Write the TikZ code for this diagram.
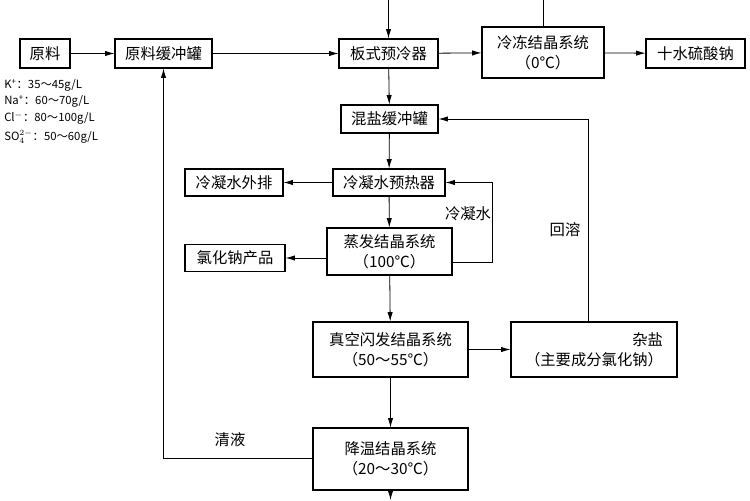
\documentclass[tikz,border=0pt]{standalone}
\usepackage{fontspec}
\setmainfont{Liberation Serif}
\newfontfamily\cjk{Noto Sans CJK SC}
\usetikzlibrary{arrows.meta}

\begin{document}
\begin{tikzpicture}[x=0.75pt,y=0.75pt,yscale=-1,xscale=1,
  box/.style={draw,line width=0.8pt,inner sep=1pt,align=center,font=\cjk\fontsize{11.5}{15}\selectfont},
  flow/.style={line width=0.6pt,-{Latex[length=7pt,width=4pt]}},
  lbl/.style={font=\cjk\fontsize{11.5}{13}\selectfont},
  note/.style={font=\cjk\fontsize{8.5}{10}\selectfont,anchor=west,inner sep=0pt}]
\useasboundingbox (0,0) rectangle (750,500);

% Boxes
\node (raw) [box,minimum width=37.5pt,minimum height=21.75pt] at (45,53.5) {原料};
\node (rawtank) [box,minimum width=72.75pt,minimum height=21.75pt] at (163.5,53.5) {原料缓冲罐};
\node (precool) [box,minimum width=74.25pt,minimum height=21.75pt] at (388.5,53.5) {板式预冷器};
\node (freeze) [box,minimum width=91.5pt,minimum height=38.25pt] at (543,52.5) {冷冻结晶系统\\（0℃）};
\node (glauber) [box,minimum width=74.25pt,minimum height=21.75pt] at (695.5,53.5) {十水硫酸钠};
\node (mixtank) [box,minimum width=72.75pt,minimum height=21pt] at (389.5,119) {混盐缓冲罐};
\node (preheat) [box,minimum width=84pt,minimum height=20.25pt] at (389,182.5) {冷凝水预热器};
\node (drain) [box,minimum width=73.5pt,minimum height=20.25pt] at (234,182.5) {冷凝水外排};
\node (evap) [box,minimum width=93.75pt,minimum height=35.25pt] at (389.5,251.5) {蒸发结晶系统\\（100℃）};
\node (nacl) [box,minimum width=75pt,minimum height=20.25pt] at (235,258) {氯化钠产品};
\node (flash) [box,minimum width=116.25pt,minimum height=41.25pt] at (390.5,349.5) {真空闪发结晶系统\\（50～55℃）};
\node (salt) [box,minimum width=124.5pt,minimum height=41.25pt,align=right] at (594,349.5) {杂盐\\（主要成分氯化钠）};
\node (cool) [box,minimum width=116.25pt,minimum height=46.5pt] at (390.5,459) {降温结晶系统\\（20～30℃）};

% Composition of the feed
\node [note] at (4,85) {K\textsuperscript{+}：35～45g/L};
\node [note] at (4,101.5) {Na\textsuperscript{+}：60～70g/L};
\node [note] at (4,118) {Cl\textsuperscript{$-$}：80～100g/L};
\node [note] at (4,137) {SO$_4^{2-}$：50～60g/L};

% Inflow and outflow at the edges
\coordinate (feedtop) at (388.5,0);
\coordinate (freezetop) at (543,0);
\coordinate (outbot) at (390.5,500);

% Connectors
\draw [flow] (raw) -- (rawtank);
\draw [flow] (rawtank) -- (precool);
\draw [flow] (feedtop) -- (precool);
\draw [line width=0.6pt] (freezetop) -- (freeze);
\draw [flow] (precool) -- (freeze);
\draw [flow] (freeze) -- (glauber);
\draw [flow] (precool) -- (mixtank);
\draw [flow] (mixtank) -- (preheat);
\draw [flow] (preheat) -- (drain);
\draw [flow] (preheat) -- (evap);
\draw [flow] (evap.west |- nacl) -- (nacl);
\draw [flow] (evap.east |- 0,262) -| (492,182.5) -- (preheat.east);
\draw [flow] (evap) -- (flash);
\draw [flow] (flash) -- (salt);
\draw [flow] (salt.north -| 588,0) |- (mixtank.east);
\draw [flow] (flash) -- (cool);
\draw [flow] (cool.west |- 0,458) -| (rawtank.south);
\draw [flow] (cool) -- (outbot);

% Labels
\node [lbl] at (468,214) {冷凝水};
\node [lbl] at (565,230) {回溶};
\node [lbl] at (230,440) {清液};

\end{tikzpicture}
\end{document}
